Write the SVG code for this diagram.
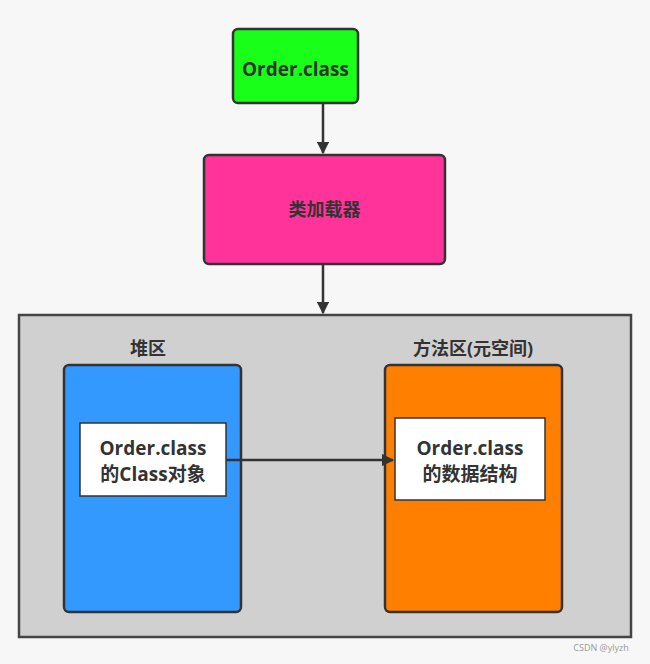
<svg xmlns="http://www.w3.org/2000/svg" width="650" height="664" viewBox="0 0 650 664">
<style>
text{font-family:"Open Sans","Noto Sans CJK SC",sans-serif;font-weight:bold;fill:#333;text-anchor:middle}
.b{stroke:#333;stroke-width:2.5}
.c{stroke:#333;stroke-width:2.5;fill:none}
</style>
<defs><marker id="a" viewBox="0 0 10 10" refX="9" refY="5" markerWidth="5" markerHeight="5" orient="auto"><path d="M0,0L10,5L0,10z" fill="#333"/></marker></defs>
<rect width="650" height="664" fill="#f7f7f7"/>
<g id="area"><rect x="19" y="315" width="612" height="322" fill="#d0d0d0" stroke="#444" stroke-width="2.5"/></g>
<g id="order"><rect class="b" x="233" y="29" width="125" height="74" rx="5" fill="#1aff1a"/><text x="295.5" y="76" font-size="19">Order.class</text></g>
<g id="loader"><rect class="b" x="204" y="155" width="241" height="109" rx="5" fill="#ff3399"/><text x="324.5" y="216" font-size="18">类加载器</text></g>
<g id="heap"><text x="148" y="355" font-size="18">堆区</text><rect class="b" x="64" y="365" width="177" height="247" rx="5" fill="#3399ff"/></g>
<g id="method"><text x="473" y="355" font-size="18">方法区(元空间)</text><rect class="b" x="385" y="365" width="177" height="247" rx="5" fill="#ff8000"/></g>
<g id="classobj"><rect x="80" y="423" width="146" height="73" fill="#fff" stroke="#333" stroke-width="1.5"/><text x="153" y="455" font-size="19">Order.class</text><text x="153" y="481" font-size="19">的Class对象</text></g>
<g id="datastruct"><rect x="395" y="418" width="150" height="82" fill="#fff" stroke="#333" stroke-width="1.5"/><text x="470" y="455" font-size="19">Order.class</text><text x="470" y="481" font-size="19">的数据结构</text></g>
<g id="connectors">
<line class="c" x1="323" y1="103" x2="323" y2="153" marker-end="url(#a)"/>
<line class="c" x1="323" y1="264" x2="323" y2="313" marker-end="url(#a)"/>
<line class="c" x1="226" y1="460" x2="393" y2="460" marker-end="url(#a)"/>
</g>
<text x="601" y="651" font-size="9" style="font-weight:normal;fill:#999">CSDN @ylyzh</text>
</svg>
